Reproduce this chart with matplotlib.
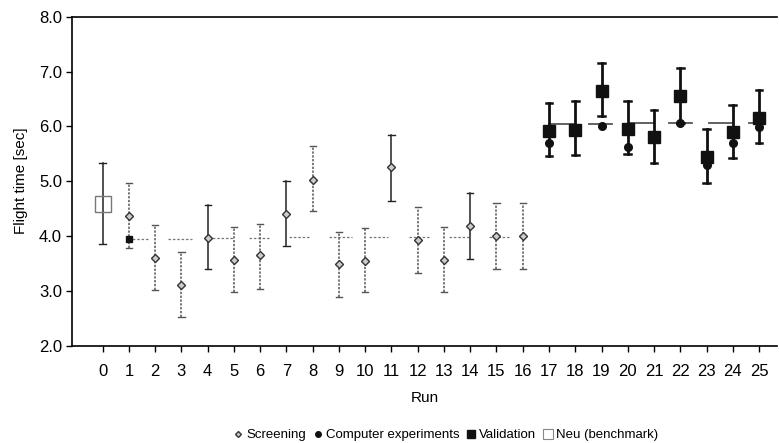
import matplotlib.pyplot as plt
from matplotlib.lines import Line2D

plt.rcParams['font.family'] = ['Liberation Sans', 'DejaVu Sans']

# screening runs 1-16
screen_runs = list(range(1, 17))
screen_val = [4.37, 3.60, 3.10, 3.97, 3.56, 3.65, 4.40, 5.02, 3.48, 3.55, 5.25, 3.92, 3.57, 4.18, 4.00, 4.00]
screen_lo = [3.78, 3.02, 2.52, 3.40, 2.97, 3.03, 3.82, 4.45, 2.88, 2.97, 4.63, 3.33, 2.97, 3.58, 3.40, 3.40]
screen_hi = [4.97, 4.20, 3.70, 4.57, 4.17, 4.22, 5.00, 5.65, 4.07, 4.15, 5.85, 4.52, 4.17, 4.78, 4.60, 4.60]
screen_solid = [False, False, False, True, False, False, True, False, False, False, True, False, False, True, False, False]

# validation runs 17-25
val_runs = list(range(17, 26))
val_val = [5.92, 5.93, 6.65, 5.96, 5.81, 6.56, 5.45, 5.89, 6.15]
comp_val = [5.69, 5.95, 6.01, 5.62, 5.83, 6.07, 5.30, 5.70, 5.99]
val_lo = [5.46, 5.48, 6.19, 5.49, 5.34, 6.07, 4.97, 5.42, 5.69]
val_hi = [6.42, 6.46, 7.16, 6.46, 6.30, 7.06, 5.95, 6.39, 6.66]

# benchmark run 0
neu_run = 0
neu_val = 4.58
neu_lo = 3.85
neu_hi = 5.33

# small validation mark at run 1
extra_run = 1
extra_val = 3.95

# predicted level segments
seg_start = [0.97, 2.48, 4.0, 5.57, 7.1, 8.62, 10.14, 11.68, 13.2, 14.7,
             17.0, 18.53, 20.0, 21.57, 23.09, 24.61]
seg_end = [1.77, 3.4, 4.96, 6.39, 7.9, 9.5, 10.87, 12.5, 14.0, 15.55,
           17.95, 19.39, 21.0, 22.46, 24.0, 25.0]
seg_level = [3.95, 3.95, 3.97, 3.97, 3.98, 3.98, 3.98, 3.98, 3.98, 3.99,
             6.04, 6.05, 6.06, 6.07, 6.06, 6.07]

fig = plt.figure(figsize=(7.79, 4.43), dpi=100)
ax = fig.add_axes([0.093, 0.22, 0.905, 0.742])

# level segments
for s, e, lv in zip(seg_start, seg_end, seg_level):
    if lv < 5:
        ax.plot([s, e], [lv, lv], color='#777777', lw=0.9, ls=(0, (2, 1.5)))
    else:
        ax.plot([s, e], [lv, lv], color='#555555', lw=1.3)

# screening error bars
for r, v, lo, hi, solid in zip(screen_runs, screen_val, screen_lo, screen_hi, screen_solid):
    if solid:
        c, ls = '#222222', '-'
    else:
        c, ls = '#555555', (0, (1.5, 1))
    ax.plot([r, r], [lo, hi], color=c, ls=ls, lw=1.1)
    ax.plot([r - 0.12, r + 0.12], [lo, lo], color=c, lw=1.0)
    ax.plot([r - 0.12, r + 0.12], [hi, hi], color=c, lw=1.0)
ax.plot(screen_runs, screen_val, ls='none', marker='D', ms=4.5, mfc='#cccccc', mec='#333333', mew=1.0)

# benchmark
ax.plot([neu_run, neu_run], [neu_lo, neu_hi], color='#222222', lw=1.1)
ax.plot([neu_run - 0.12, neu_run + 0.12], [neu_lo, neu_lo], color='#222222', lw=1.0)
ax.plot([neu_run - 0.12, neu_run + 0.12], [neu_hi, neu_hi], color='#222222', lw=1.0)
ax.plot([neu_run], [neu_val], ls='none', marker='s', ms=11, mfc='none', mec='#777777', mew=1.0)

ax.plot([extra_run], [extra_val], ls='none', marker='s', ms=5, color='#111111')

# validation
for r, lo, hi in zip(val_runs, val_lo, val_hi):
    ax.plot([r, r], [lo, hi], color='#111111', lw=2.0)
    ax.plot([r - 0.13, r + 0.13], [lo, lo], color='#111111', lw=1.8)
    ax.plot([r - 0.13, r + 0.13], [hi, hi], color='#111111', lw=1.8)
ax.plot(val_runs, comp_val, ls='none', marker='o', ms=5.5, color='#111111')
ax.plot(val_runs, val_val, ls='none', marker='s', ms=8.5, color='#111111')

ax.set_xlim(-1.15, 25.7)
ax.set_ylim(2.0, 8.0)
ax.set_xticks(range(0, 26))
ax.set_yticks([2.0, 3.0, 4.0, 5.0, 6.0, 7.0, 8.0])
ax.set_yticklabels(['2.0', '3.0', '4.0', '5.0', '6.0', '7.0', '8.0'])
ax.tick_params(axis='both', labelsize=12, direction='out', length=4, width=1.0)
ax.tick_params(axis='x', pad=9)
ax.spines['right'].set_visible(False)
for sp in ['left', 'bottom', 'top']:
    ax.spines[sp].set_linewidth(1.2)

ax.set_xlabel('Run', fontsize=11, labelpad=9)
ax.set_ylabel('Flight time [sec]', fontsize=11, labelpad=8)

handles = [
    Line2D([], [], ls='none', marker='D', ms=3, mfc='#cccccc', mec='#333333'),
    Line2D([], [], ls='none', marker='o', ms=4, color='#111111'),
    Line2D([], [], ls='none', marker='s', ms=6, color='#111111'),
    Line2D([], [], ls='none', marker='s', ms=7, mfc='white', mec='#888888', mew=0.8),
]
labels = ['Screening', 'Computer experiments', 'Validation', 'Neu (benchmark)']
fig.legend(handles, labels, loc='center', bbox_to_anchor=(0.573, 0.018), ncol=4,
           frameon=False, fontsize=9.5, handlelength=0.6, handletextpad=0.3,
           columnspacing=0.6)

fig.savefig('out.png', dpi=100)
